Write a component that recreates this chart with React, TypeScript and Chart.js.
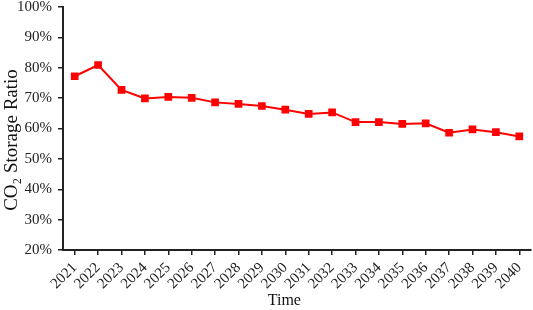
import React, { useEffect, useRef } from "react";
import { Chart, registerables } from "chart.js";
Chart.register(...registerables);

const years = ["2021","2022","2023","2024","2025","2026","2027","2028","2029","2030","2031","2032","2033","2034","2035","2036","2037","2038","2039","2040"];
const storageRatio = [77.2, 80.9, 72.7, 69.9, 70.4, 70.1, 68.6, 68.1, 67.4, 66.2, 64.8, 65.3, 62.1, 62.1, 61.5, 61.7, 58.6, 59.7, 58.8, 57.4];
const yMin = 20;
const yMax = 100;
const yStep = 10;
const xTitle = "Time";
const yTitle = "CO\u2082 Storage Ratio";

const FONT = "'Liberation Serif', 'Times New Roman', serif";

const titlesPlugin = {
  id: "axisTitles",
  afterDraw(chart: any) {
    const { ctx, chartArea } = chart;
    ctx.save();
    ctx.fillStyle = "#111";
    ctx.textAlign = "center";
    ctx.textBaseline = "middle";
    ctx.font = `16px ${FONT}`;
    ctx.fillText(xTitle, chartArea.left + (chartArea.right - chartArea.left) * 0.473, 301);
    ctx.translate(12, 140);
    ctx.rotate(-Math.PI / 2);
    ctx.font = `19px ${FONT}`;
    ctx.fillText(yTitle, 0, 0);
    ctx.restore();
  },
};

export default function App() {
  const ref = useRef<HTMLCanvasElement>(null);
  useEffect(() => {
    document.body.style.margin = "0";
    const ctx = ref.current!;
    const chart = new Chart(ctx, {
      type: "line",
      data: {
        labels: years,
        datasets: [{
          data: storageRatio,
          borderColor: "#ff0000",
          backgroundColor: "#ff0000",
          borderWidth: 2,
          pointStyle: "rect",
          pointRadius: 4,
          pointHoverRadius: 4,
          tension: 0,
        }],
      },
      plugins: [titlesPlugin],
      options: {
        animation: false,
        responsive: false,
        maintainAspectRatio: false,
        plugins: { legend: { display: false }, tooltip: { enabled: false } },
        layout: { autoPadding: false, padding: { top: 0, right: 2, left: 1, bottom: 0 } },
        scales: {
          x: {
            offset: true,
            afterFit: (s: any) => { s.height = 60; s.paddingLeft = 0; s.paddingRight = 0; },
            grid: { display: true, drawOnChartArea: false, offset: false, color: "#222", tickLength: 5, lineWidth: 1.5 },
            border: { display: true, color: "#222", width: 2 },
            ticks: { color: "#222", font: { family: FONT, size: 15 }, minRotation: 45, maxRotation: 45, padding: 4, autoSkip: false },
          },
          y: {
            min: yMin,
            max: yMax,
            afterFit: (s: any) => { s.width = 62; s.paddingTop = 7; s.paddingBottom = 0; },
            grid: { display: true, drawOnChartArea: false, color: "#222", tickLength: 5, lineWidth: 1.5 },
            border: { display: true, color: "#222", width: 2 },
            ticks: { stepSize: yStep, color: "#222", font: { family: FONT, size: 15 }, padding: 6, callback: (v: any) => v + "%" },
          },
        },
      },
    });
    return () => chart.destroy();
  }, []);
  return <canvas ref={ref} width={533} height={310} style={{ display: "block" }} />;
}
